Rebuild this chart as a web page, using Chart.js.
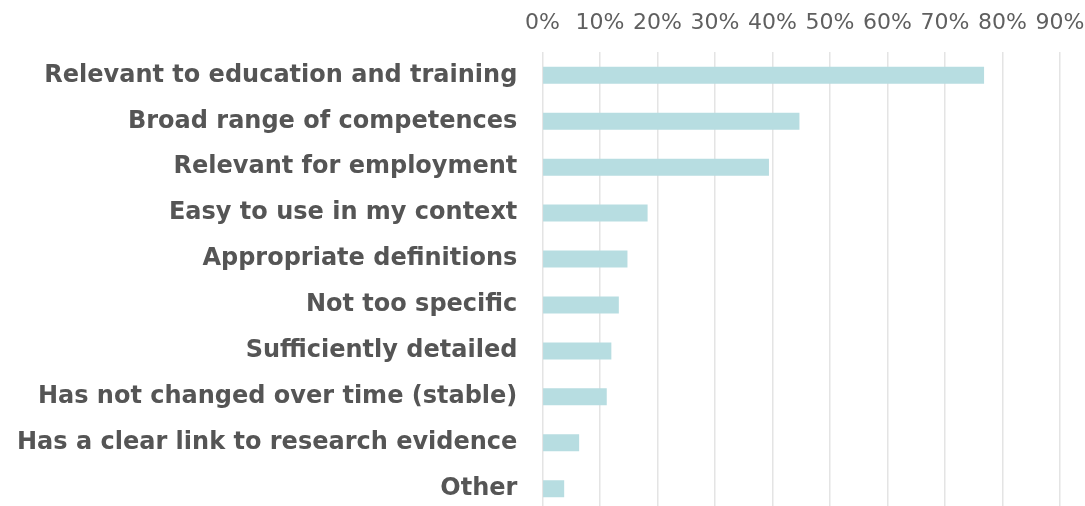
<!DOCTYPE html>
<html>
<head>
<meta charset="utf-8">
<script src="https://cdn.jsdelivr.net/npm/chart.js@4"></script>
<style>
  html, body { margin: 0; padding: 0; background: #fff; overflow: hidden; }
  #wrap { width: 1085px; height: 543px; position: relative; }
</style>
</head>
<body>
<div id="wrap"><canvas id="chart"></canvas></div>
<script>
// categories, top to bottom
const categories = [
  'Relevant to education and training',
  'Broad range of competences',
  'Relevant for employment',
  'Easy to use in my context',
  'Appropriate definitions',
  'Not too specific',
  'Sufficiently detailed',
  'Has not changed over time (stable)',
  'Has a clear link to research evidence',
  'Other'
];

// share of respondents, percent
const shares = [76.8, 44.7, 39.4, 18.3, 14.8, 13.3, 12.0, 11.2, 6.4, 3.8];

// x axis ticks
const tickValues = [0, 10, 20, 30, 40, 50, 60, 70, 80, 90];

const ctx = document.getElementById('chart').getContext('2d');
new Chart(ctx, {
  type: 'bar',
  data: {
    labels: categories,
    datasets: [{
      data: shares,
      backgroundColor: '#b7dde1',
      borderWidth: 0,
      barPercentage: 0.37,
      categoryPercentage: 1
    }]
  },
  options: {
    indexAxis: 'y',
    responsive: true,
    maintainAspectRatio: false,
    animation: false,
    layout: { padding: { top: -6, left: 0, right: 0, bottom: 0 } },
    plugins: {
      legend: { display: false },
      tooltip: { enabled: false }
    },
    scales: {
      x: {
        position: 'top',
        min: 0,
        max: 90,
        afterBuildTicks: axis => {
          axis.ticks = tickValues.map(v => ({ value: v }));
        },
        // only keep room for half of the "90%" label on the right
        afterFit: axis => {
          axis.paddingRight = 25;
        },
        grid: { color: '#e4e4e4', lineWidth: 1.5, drawTicks: false },
        border: { display: false },
        ticks: {
          padding: 16,
          color: '#5f5f5f',
          font: { family: 'DejaVu Sans', size: 22 },
          callback: v => v + '%'
        }
      },
      y: {
        grid: { display: false },
        border: { display: false },
        ticks: {
          padding: 17,
          color: '#555555',
          font: { family: 'DejaVu Sans', size: 24, weight: 'bold' }
        }
      }
    }
  }
});
</script>
</body>
</html>
